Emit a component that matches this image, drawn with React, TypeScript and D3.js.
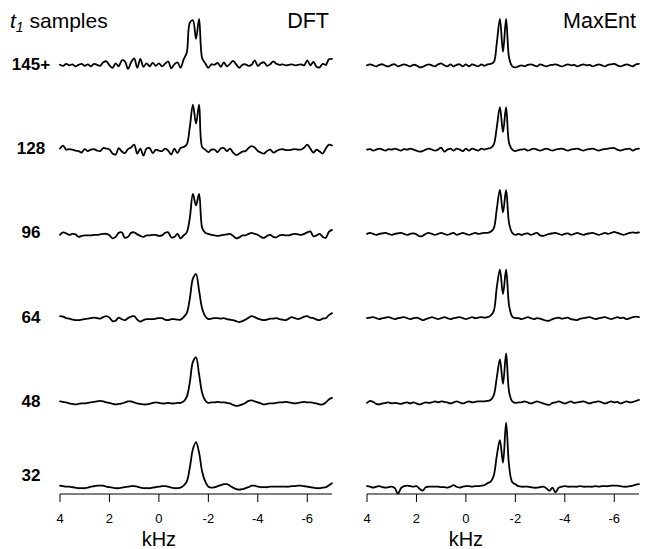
import React from "react";
import * as d3 from "d3";

// Frequency grid of the processed spectra, kHz (4 down to -7 in 0.125 kHz steps)
const FREQ_KHZ: number[] = d3.range(0, 89).map((j) => 4 - 0.125 * j);

const ROW_LABELS = ["145+", "128", "96", "64", "48", "32"];
const AXIS_TICKS = [4, 2, 0, -2, -4, -6];

// DFT spectra (intensity, a.u.), one per number of t1 samples
const DFT_145 = [
  1, -1, 3, 0, 2, -2, 1, 3, -1, 2,
  -2, 3, 1, -1, 6, 8, 0, -5, 4, -2,
  10, 8, -7, 6, 14, -5, 13, -3, 4, -2,
  5, -1, 4, -2, 3, 8, -6, 2, 6, -5,
  12, 25, 85, 90, 53, 93, 14, 4, -5, 2,
  1, 5, -3, 6, -2, 3, 9, 2, -5, 1,
  2, -1, 1, 10, -1, 4, 6, -1, 2, 8,
  3, 1, 2, 0, 1, 2, 0, 1, 2, 0,
  10, 0, 7, -3, -4, 3, 1, 12, 13,
];
const DFT_128 = [
  2, 8, 0, 1, 0, -2, -3, -6, 1, -3,
  0, 1, -2, -3, 3, 2, 0, -8, -10, 3,
  -4, -7, 1, 4, 10, -8, 2, -12, 2, 3,
  -7, 0, -2, -3, 2, -2, -10, 2, -7, 3,
  5, 10, 45, 90, 52, 90, 5, 0, -5, 0,
  0, -5, 2, 3, -3, 2, -6, -11, -8, -4,
  -3, 3, 7, 4, -3, -6, -8, -3, 0, -6,
  -3, 0, 1, -1, -1, 0, 1, 0, 0, 4,
  10, 2, -6, 0, -4, -8, 2, 10, 8,
];
const DFT_96 = [
  -2, 3, 1, -2, 0, -1, -6, -4, -3, -3,
  -3, -2, -2, -1, 0, 0, -3, -9, -6, 2,
  3, -8, -6, 2, 3, -1, -4, -6, -3, -3,
  -2, -2, -4, -3, 2, 3, -7, -6, 0, -9,
  -3, 3, 32, 80, 57, 80, 12, 2, 0, -2,
  -3, -4, -3, -2, -1, 0, -4, -9, -7, -3,
  -3, 0, 2, 0, -2, -6, -8, -4, -2, -6,
  -7, -3, -2, -3, -3, -1, 0, -1, -2, 0,
  3, 5, -5, -3, 0, -6, -8, 4, 8,
];
const DFT_64 = [
  4, 3, 0, -1, -3, -4, -4, -3, -2, -1,
  0, 1, 0, -1, 2, 4, 1, -6, -5, 1,
  -2, -4, 0, 3, 4, -3, -7, -4, -2, -2,
  -2, -1, 0, 0, -3, -4, -2, -2, -3, -3,
  2, 10, 39, 79, 88, 55, 19, 4, -2, -1,
  0, 0, -1, 0, -2, -3, -4, -6, -8, -6,
  -3, 1, 4, 2, -1, -3, -4, -3, -1, -1,
  0, -2, -3, -4, -1, 2, 0, -2, 0, 3,
  4, 1, 0, -3, -4, -1, 0, 6, 10,
];
const DFT_48 = [
  2, 1, 0, -2, -3, -4, -3, -2, -2, -1,
  0, 1, 2, 3, 2, 0, -1, -3, -4, -3,
  -2, 0, 2, 2, 0, -2, -3, -4, -4, -3,
  -1, 0, -1, -2, -2, -1, -2, -2, -1, -1,
  2, 11, 40, 81, 90, 56, 19, 4, -1, 0,
  0, 1, 0, 0, -1, -2, -5, -7, -6, -4,
  -1, 3, 4, 2, 0, -2, -4, -3, -2, -2,
  -1, 0, 0, 1, 0, -1, -2, -1, 0, 1,
  0, 0, -1, -2, -4, -4, 0, 6, 9,
];
const DFT_32 = [
  2, 1, 0, 0, -1, -2, -3, -3, -3, -2,
  0, 1, 2, 2, 2, 0, -1, -2, -3, -3,
  -2, -1, 0, 1, 1, 0, -2, -3, -3, -3,
  -2, -1, 0, 1, 1, 0, -2, -3, -3, -2,
  2, 10, 38, 75, 89, 68, 30, 10, 0, -2,
  -1, 1, 3, 5, 5, 2, -2, -5, -6, -5,
  -3, -1, 2, 2, 0, -1, -1, -1, 0, 0,
  0, 0, 0, 0, 0, 1, 1, 2, 2, 1,
  0, -1, -2, -3, -3, -2, -1, 3, 7,
];

// Maximum-entropy reconstructions (intensity, a.u.)
const MAXENT_145 = [
  0, 2, 0, -2, 1, 2, -1, -2, 1, 2,
  -2, 0, 2, 0, -2, 1, 0, -4, -3, 0,
  2, 0, -2, 2, 4, 0, -2, 2, -2, 1,
  2, -2, 2, -2, 2, 0, -2, 2, -1, 2,
  3, 6, 45, 93, 27, 93, 14, -2, -4, -2,
  0, -2, 1, 2, 0, -2, 2, 0, -2, 0,
  1, 2, 0, -2, 0, 2, 0, 1, -2, 0,
  2, 0, 1, -2, 0, 2, 0, -2, 1, 2,
  3, 0, -2, 0, 2, 0, -2, 2, 3,
];
const MAXENT_128 = [
  0, 1, -2, 0, 2, 0, -2, 1, 0, 2,
  0, -2, 1, 0, 2, 0, -2, -4, -3, 0,
  2, 0, -2, 0, 4, -4, 0, 2, -2, 2,
  0, -3, 2, -2, 2, 0, -2, 2, 0, 2,
  3, 10, 45, 85, 35, 85, 12, 0, -3, -1,
  0, 1, -2, 0, 2, 0, -2, 0, 2, 0,
  -2, 0, 1, 2, 0, -2, 0, 1, 2, 0,
  -2, 0, 1, 2, 0, -2, 0, 1, 2, 3,
  3, 0, -2, 0, 1, 2, -2, 1, 2,
];
const MAXENT_96 = [
  0, 2, 0, -2, 0, 1, 2, 0, -2, 0,
  1, 2, 0, -2, 0, 1, -1, -5, -4, 0,
  2, 0, -2, 0, 2, 0, -2, 0, 2, -2,
  0, 2, 0, -2, 0, 2, 0, 1, 2, 2,
  4, 11, 50, 88, 43, 88, 20, 2, -2, 0,
  -2, 0, 1, -2, 0, 2, -3, -4, -2, 0,
  1, 2, 0, -2, 0, 1, -2, 0, 2, 0,
  -2, 0, 1, 2, 0, -2, 0, 2, 0, 2,
  4, 2, 0, -2, 0, 2, 3, 2, 3,
];
const MAXENT_64 = [
  0, 1, 2, 0, -2, 0, 1, 2, 0, -2,
  0, 1, 2, 0, -2, 0, 1, -1, -4, -2,
  0, 2, 0, -2, 0, 2, 0, -2, 0, 1,
  2, 0, -2, 0, 2, 0, 1, 2, 1, 2,
  5, 14, 62, 97, 48, 97, 24, 3, 0, 0,
  -2, 0, 2, 0, -2, 0, -1, -3, -5, -5,
  -2, 0, 1, -1, 0, 1, -2, -3, -4, -1,
  0, 1, 2, 0, -2, 0, 1, 2, 0, -2,
  0, 2, 0, 1, -2, 0, 2, 3, 2,
];
const MAXENT_48 = [
  -1, 3, 1, -3, -4, -2, -1, 0, -2, -1,
  -2, -3, -1, 0, -2, 0, -2, -4, -2, 0,
  -1, 0, 2, 0, 2, 1, 0, -2, 0, 2,
  0, -2, 0, 2, 0, 1, 2, 2, 2, 3,
  5, 14, 50, 86, 37, 98, 20, 2, -1, 0,
  0, 2, 0, -2, 0, 2, 0, -2, -4, -5,
  -1, 0, 2, 0, -2, 0, 2, -1, 0, 1,
  2, 0, -2, 0, 1, 2, 0, -2, 0, 2,
  0, 1, -2, 0, 2, 0, 1, 3, 5,
];
const MAXENT_32 = [
  1, 0, -2, 0, 1, -1, -2, -1, 0, -3,
  -14, -3, 1, 2, 1, 0, 1, -4, -8, -1,
  0, 0, 0, 0, -1, -1, -2, 0, 3, 0,
  -2, 0, 1, 1, 0, 1, 1, 2, 3, 7,
  10, 22, 62, 93, 48, 128, 40, 9, 5, 1,
  0, 0, 0, -1, -2, -2, -1, 0, -3, -8,
  -2, -11, -2, 0, 1, 0, 0, 0, 0, 1,
  0, 0, 0, 0, 1, 0, 1, 1, 1, 2,
  2, 2, 1, 0, 0, 1, 2, 4, 5,
];

const DFT_SERIES = [DFT_145, DFT_128, DFT_96, DFT_64, DFT_48, DFT_32];
const MAXENT_SERIES = [MAXENT_145, MAXENT_128, MAXENT_96, MAXENT_64, MAXENT_48, MAXENT_32];

const WIDTH = 647;
const HEIGHT = 549;
const FONT = "'Liberation Sans', Arial, Helvetica, sans-serif";
const AXIS_Y = 494;

const rowBaseline = d3.scaleLinear().domain([0, 5]).range([65.3, 486.7]);
const amplitude = d3.scaleLinear().domain([0, 100]).range([0, 50]);

type PanelProps = {
  title: string;
  series: number[][];
  range: [number, number];
};

function Panel({ title, series, range }: PanelProps) {
  const x = d3.scaleLinear().domain([4, -7]).range(range);
  const paths = series.map((values, row) => {
    const base = rowBaseline(row);
    const line = d3
      .line<number>()
      .x((_, j) => x(FREQ_KHZ[j]))
      .y((v) => base - amplitude(v))
      .curve(d3.curveCatmullRom.alpha(0.5));
    return line(values) ?? "";
  });

  return (
    <g>
      <text
        x={range[1] - 3}
        y={28}
        textAnchor="end"
        fontSize={21.5}
        fontFamily={FONT}
        fill="#000"
      >
        {title}
      </text>
      {paths.map((d, i) => (
        <path
          key={i}
          d={d}
          fill="none"
          stroke="#000"
          strokeWidth={1.8}
          strokeLinejoin="round"
          strokeLinecap="round"
        />
      ))}
      <line x1={range[0]} x2={range[1]} y1={AXIS_Y} y2={AXIS_Y} stroke="#000" strokeWidth={1} />
      {AXIS_TICKS.map((t) => (
        <g key={t} transform={`translate(${x(t)},${AXIS_Y})`}>
          <line y1={0} y2={8} stroke="#000" strokeWidth={1} />
          <text y={29} textAnchor="middle" fontSize={13} fontFamily={FONT} fill="#000">
            {t < 0 ? `-${Math.abs(t)}` : t}
          </text>
        </g>
      ))}
      <text
        x={x(0)}
        y={546}
        textAnchor="middle"
        fontSize={20}
        fontFamily={FONT}
        fill="#000"
      >
        kHz
      </text>
    </g>
  );
}

export default function App() {
  return (
    <svg
      width={WIDTH}
      height={HEIGHT}
      viewBox={`0 0 ${WIDTH} ${HEIGHT}`}
      style={{ position: "absolute", left: 0, top: 0, background: "#fff" }}
    >
      <rect width={WIDTH} height={HEIGHT} fill="#fff" />
      <text x={10} y={28} fontSize={21} fontFamily={FONT} fill="#000">
        <tspan fontStyle="italic">t</tspan>
        <tspan fontStyle="italic" fontSize={14} dy={4}>1</tspan>
        <tspan dy={-4}> samples</tspan>
      </text>
      {ROW_LABELS.map((label, i) => {
        const last = i === ROW_LABELS.length - 1;
        const y = last ? rowBaseline(i) - 12 : rowBaseline(i) - 1.5;
        return (
          <text
            key={label}
            x={31}
            y={y}
            dy="0.35em"
            textAnchor="middle"
            fontSize={17}
            fontWeight="bold"
            fontFamily={FONT}
            fill="#000"
          >
            {label}
          </text>
        );
      })}
      <Panel title="DFT" series={DFT_SERIES} range={[60, 332]} />
      <Panel title="MaxEnt" series={MAXENT_SERIES} range={[367, 639]} />
    </svg>
  );
}
